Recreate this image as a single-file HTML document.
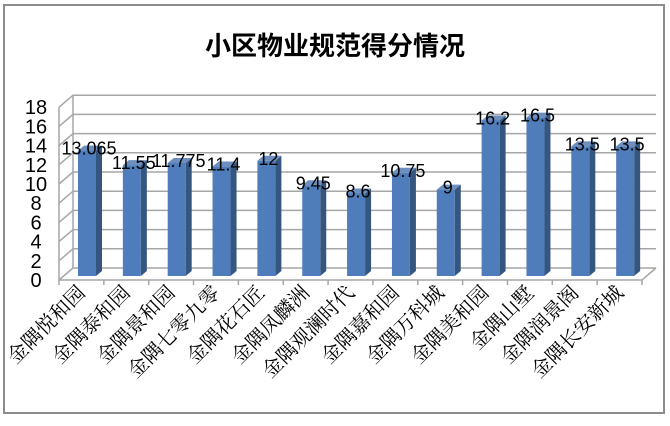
<!DOCTYPE html>
<html><head><meta charset="utf-8"><style>
html,body{margin:0;padding:0;background:#fff}
svg{display:block}
</style></head><body>
<svg width="670" height="426" xmlns="http://www.w3.org/2000/svg">
<rect x="4" y="5" width="660" height="408" fill="#fff" stroke="#8c8c8c" stroke-width="2"/>
<text x="335" y="55" text-anchor="middle" font-family="Liberation Sans, Noto Sans CJK SC, sans-serif" font-weight="bold" font-size="26" fill="#000">小区物业规范得分情况</text>
<g id="grid" stroke="#a6a6a6" stroke-width="1.5" fill="none"></g>
<g id="bars"></g>
<g id="labels"></g>
<script>
const ns="http://www.w3.org/2000/svg";
function el(t,a,p,txt){const e=document.createElementNS(ns,t);for(const k in a)e.setAttribute(k,a[k]);if(txt!==undefined)e.textContent=txt;document.getElementById(p).appendChild(e);return e;}
const fx0=59,fx1=642,f0=280,s=9.6,dx=14,dy=-12;
for(let v=0;v<=18;v+=2){const y=f0-v*s;
 el('polyline',{points:`${fx0},${y} ${fx0+dx},${y+dy} ${656},${y+dy}`},'grid');
 el('text',{x:36,y:y+7,'text-anchor':'middle','font-family':'Liberation Sans, sans-serif','font-size':'20',fill:'#000',stroke:'none'},'labels',String(v));
}
el('line',{x1:fx0+dx,y1:f0+dy,x2:fx0+dx,y2:f0-18*s+dy},'grid');
el('line',{x1:fx0,y1:f0,x2:fx0,y2:f0-18*s},'grid');
el('polyline',{points:`${fx0},${f0} ${fx1},${f0} ${fx1+dx},${f0+dy}`},'grid');
const names=["金隅悦和园","金隅泰和园","金隅景和园","金隅七零九零","金隅花石匠","金隅凤麟洲","金隅观澜时代","金隅嘉和园","金隅万科城","金隅美和园","金隅山墅","金隅润景阁","金隅长安新城"];
const vals=[13.065,11.55,11.775,11.4,12,9.45,8.6,10.75,9,16.2,16.5,13.5,13.5];
const labs=["13.065","11.55","11.775","11.4","12","9.45","8.6","10.75","9","16.2","16.5","13.5","13.5"];
const w=(fx1-fx0)/13;
for(let i=0;i<13;i++){
 const tx=fx0+w*i; el('line',{x1:tx,y1:f0,x2:tx,y2:f0+5},'grid');
 const x=fx0+w*i+19,bw=18,base=276,top=base-vals[i]*s,ox=6,oy=-5;
 el('polygon',{points:`${x+bw},${base} ${x+bw+ox},${base+oy} ${x+bw+ox},${top+oy} ${x+bw},${top}`,fill:'#35567f'},'bars');
 el('polygon',{points:`${x},${top} ${x+ox},${top+oy} ${x+bw+ox},${top+oy} ${x+bw},${top}`,fill:'#6d8fc0'},'bars');
 el('rect',{x:x,y:top,width:bw,height:base-top,fill:'#4f7dbb'},'bars');
 el('text',{x:x+bw/2+2,y:top+4,'text-anchor':'middle','font-family':'Liberation Sans, sans-serif','font-size':'18',fill:'#000'},'labels',labs[i]);
 const cx=fx0+w*i+w/2+5;
 el('text',{x:cx,y:294,'text-anchor':'end','font-family':'Liberation Serif, Noto Serif CJK SC, serif','font-size':'20',fill:'#000',transform:`rotate(-45 ${cx} 294)`},'labels',names[i]);
}
el('line',{x1:fx1,y1:f0,x2:fx1,y2:f0+5},'grid');
</script>
</svg>
</body></html>
